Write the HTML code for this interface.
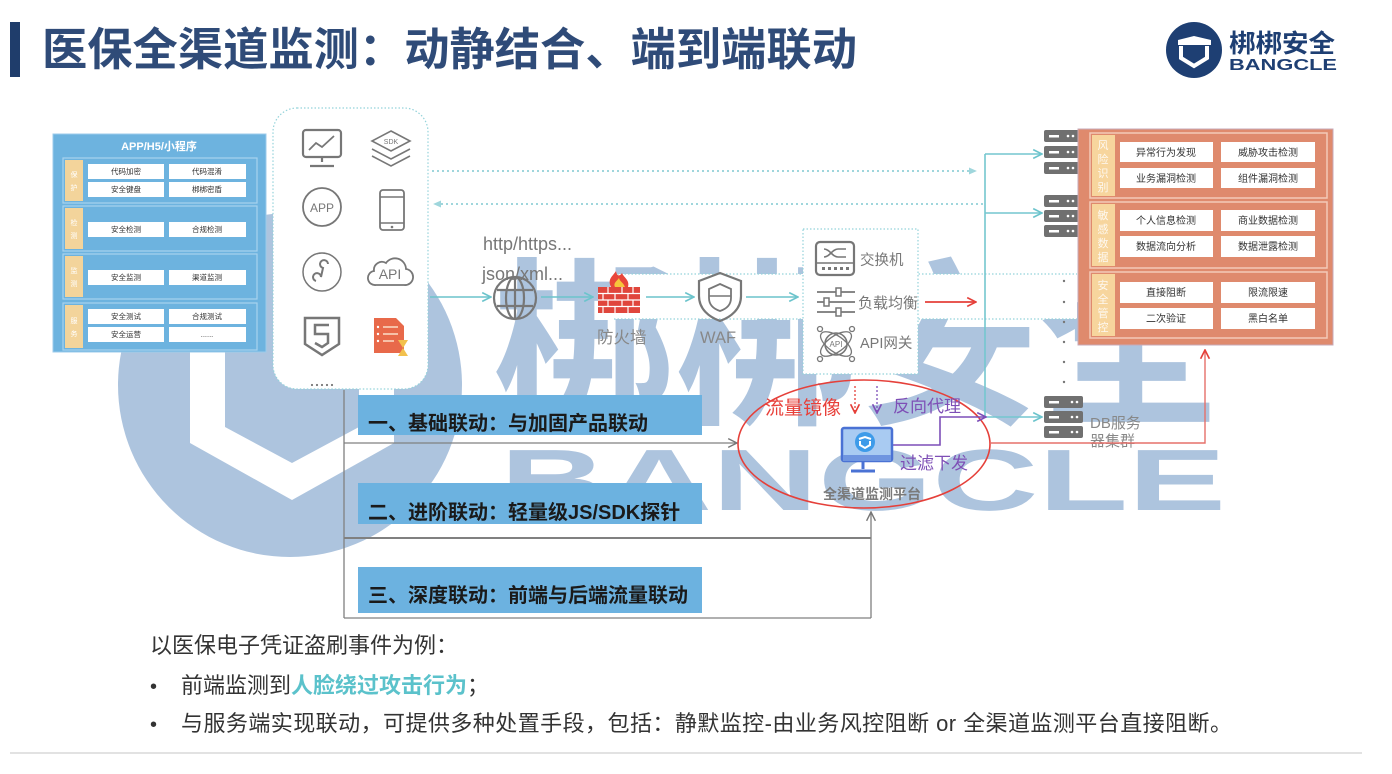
<!DOCTYPE html>
<html><head><meta charset="utf-8">
<style>
html,body{margin:0;padding:0;background:#fff;}
svg{display:block;}
text{font-family:"Liberation Sans","Noto Sans CJK SC",sans-serif;}
</style></head><body>
<svg width="1392" height="774" viewBox="0 0 1392 774" xmlns="http://www.w3.org/2000/svg">
<defs>
<marker id="aT" viewBox="0 0 10 10" refX="9" refY="5" markerWidth="11" markerHeight="11" markerUnits="userSpaceOnUse" orient="auto"><path d="M1,1 L9,5 L1,9" fill="none" stroke="#6cc4cc" stroke-width="1.5"/></marker>
<marker id="aG" viewBox="0 0 10 10" refX="9" refY="5" markerWidth="11" markerHeight="11" markerUnits="userSpaceOnUse" orient="auto"><path d="M1,1 L9,5 L1,9" fill="none" stroke="#777" stroke-width="1.3"/></marker>
<marker id="aR" viewBox="0 0 10 10" refX="9" refY="5" markerWidth="11" markerHeight="11" markerUnits="userSpaceOnUse" orient="auto"><path d="M1,1 L9,5 L1,9" fill="none" stroke="#e5403a" stroke-width="1.5"/></marker>
<marker id="aP" viewBox="0 0 10 10" refX="9" refY="5" markerWidth="11" markerHeight="11" markerUnits="userSpaceOnUse" orient="auto"><path d="M1,1 L9,5 L1,9" fill="none" stroke="#7d4fb8" stroke-width="1.5"/></marker>
<marker id="aD" viewBox="0 0 10 10" refX="8" refY="5" markerWidth="9" markerHeight="9" markerUnits="userSpaceOnUse" orient="auto"><path d="M0,1 L9,5 L0,9 z" fill="#9fd6dc"/></marker>
</defs>
<rect width="1392" height="774" fill="#fff"/>

<!-- watermark -->
<g fill="#adc4de">
<circle cx="290" cy="385" r="172"/>
<text x="492" y="410" font-size="180" font-weight="bold" textLength="730" lengthAdjust="spacingAndGlyphs">梆梆安全</text>
<text x="500" y="510" font-size="87" font-weight="bold" textLength="726" lengthAdjust="spacingAndGlyphs">BANGCLE</text>
</g>
<polygon fill="#fff" points="190,300 190,443 292,500 394,443 394,300 359,300 359,427 292,463 225,427 225,300"/>

<!-- title -->
<rect x="10" y="22" width="10" height="55" fill="#1f3d6b"/>
<text x="42" y="65" font-size="45" font-weight="bold" fill="#2f4b78" textLength="815" lengthAdjust="spacingAndGlyphs">医保全渠道监测：动静结合、端到端联动</text>

<!-- logo -->
<circle cx="1194" cy="50" r="28" fill="#1e3f73"/>
<path d="M1178,40 L1194,36 L1211,40 L1211,45 L1178,45 Z" fill="#fff"/>
<path d="M1181,46 L1181,58 L1194,66 L1207,58 L1207,46" fill="none" stroke="#fff" stroke-width="4"/>
<text x="1229" y="52" font-size="25" font-weight="bold" fill="#1e3f73" textLength="106" lengthAdjust="spacingAndGlyphs">梆梆安全</text>
<text x="1229" y="70" font-size="16" font-weight="bold" fill="#1e3f73" textLength="108" lengthAdjust="spacingAndGlyphs">BANGCLE</text>

<!-- dotted band -->
<rect x="614" y="274" width="463" height="45" fill="#fff"/>
<line x1="614" y1="274" x2="1077" y2="274" stroke="#94d3da" stroke-width="1.2" stroke-dasharray="1.5 2"/>
<line x1="614" y1="319" x2="1077" y2="319" stroke="#94d3da" stroke-width="1.2" stroke-dasharray="1.5 2"/>

<!-- dotted top arrows -->
<line x1="432" y1="171" x2="976" y2="171" stroke="#9fd6dc" stroke-width="2" stroke-dasharray="2 3" marker-end="url(#aD)"/>
<line x1="983" y1="204" x2="434" y2="204" stroke="#9fd6dc" stroke-width="2" stroke-dasharray="2 3" marker-end="url(#aD)"/>

<!-- left box -->
<rect x="53" y="134" width="213" height="218" fill="#6db3df" stroke="#9ccbeb"/>
<text x="159" y="150" font-size="11" font-weight="bold" fill="#fff" text-anchor="middle">APP/H5/小程序</text>
<g stroke="#a8d2ee" fill="none" stroke-width="1.2">
<rect x="63" y="158" width="194" height="45"/>
<rect x="63" y="206" width="194" height="45"/>
<rect x="63" y="254" width="194" height="45"/>
<rect x="63" y="303" width="194" height="47"/>
</g>
<g fill="#f3d49b">
<rect x="65" y="160" width="18" height="41"/>
<rect x="65" y="208" width="18" height="41"/>
<rect x="65" y="256" width="18" height="41"/>
<rect x="65" y="305" width="18" height="43"/>
</g>
<g font-size="7" fill="#fff" text-anchor="middle">
<text x="74" y="177">保</text><text x="74" y="190">护</text>
<text x="74" y="225">检</text><text x="74" y="238">测</text>
<text x="74" y="273">监</text><text x="74" y="286">测</text>
<text x="74" y="323">服</text><text x="74" y="336">务</text>
</g>
<g fill="#fff">
<rect x="88" y="164" width="76" height="15"/><rect x="169" y="164" width="77" height="15"/>
<rect x="88" y="182" width="76" height="15"/><rect x="169" y="182" width="77" height="15"/>
<rect x="88" y="222" width="76" height="15"/><rect x="169" y="222" width="77" height="15"/>
<rect x="88" y="270" width="76" height="15"/><rect x="169" y="270" width="77" height="15"/>
<rect x="88" y="309" width="76" height="15"/><rect x="169" y="309" width="77" height="15"/>
<rect x="88" y="327" width="76" height="15"/><rect x="169" y="327" width="77" height="15"/>
</g>
<g font-size="7.5" fill="#333" text-anchor="middle">
<text x="126" y="174">代码加密</text><text x="207" y="174">代码混淆</text>
<text x="126" y="192">安全键盘</text><text x="207" y="192">梆梆密盾</text>
<text x="126" y="232">安全检测</text><text x="207" y="232">合规检测</text>
<text x="126" y="280">安全监测</text><text x="207" y="280">渠道监测</text>
<text x="126" y="319">安全测试</text><text x="207" y="319">合规测试</text>
<text x="126" y="337">安全运营</text><text x="207" y="337">......</text>
</g>

<!-- apps panel -->
<rect x="273" y="108" width="155" height="281" rx="24" fill="#fff" stroke="#94d3da" stroke-width="1.2" stroke-dasharray="1.5 2"/>
<g fill="#777"><circle cx="312" cy="385" r="1.1"/><circle cx="317" cy="385" r="1.1"/><circle cx="322" cy="385" r="1.1"/><circle cx="327" cy="385" r="1.1"/><circle cx="332" cy="385" r="1.1"/></g>
<g stroke="#777" fill="none" stroke-width="2.2">
<rect x="303" y="130" width="38" height="27" rx="3"/>
<polyline points="309,150 316,143 322,147 334,136" stroke-width="1.8"/>
<line x1="322" y1="157" x2="322" y2="162"/>
<line x1="310" y1="166" x2="334" y2="166"/>
<polygon points="391,131 410,141 391,151 372,141" stroke-width="1.6"/>
<polyline points="372,149 391,159 410,149" stroke-width="1.6"/>
<polyline points="372,156 391,166 410,156" stroke-width="1.6"/>
<circle cx="322" cy="207" r="19" stroke-width="1.8"/>
<rect x="380" y="190" width="24" height="40" rx="3" stroke-width="1.8"/>
<line x1="380" y1="197" x2="404" y2="197" stroke-width="1.5"/>
<line x1="380" y1="223" x2="404" y2="223" stroke-width="1.5"/>
<circle cx="322" cy="272" r="19" stroke-width="1.5"/>
<path d="M316,281 a4,4 0 1,1 5,-4 L323,268 a4,4 0 1,1 5,-4" stroke-width="2"/>
<path d="M376,285 h28 a8,8 0 0 0 2,-16 a11,11 0 0 0 -20,-6 a8,8 0 0 0 -12,8 a7,7 0 0 0 2,14 z" stroke-width="1.8"/>
<path d="M305,318 h34 v26 l-17,11 l-17,-11 z" stroke-width="2.5"/>
<path d="M329,325 h-14 v9 h13 v9 l-6,4 l-7,-4" stroke-width="2.5"/>
</g>
<circle cx="392" cy="227" r="1.3" fill="#777"/>
<text x="391" y="144" font-size="7" fill="#777" text-anchor="middle">SDK</text>
<text x="322" y="212" font-size="12" fill="#777" text-anchor="middle">APP</text>
<text x="390" y="279" font-size="14" fill="#777" text-anchor="middle">API</text>
<path d="M374,318 h22 l8,8 v27 h-30 z" fill="#e8694a"/>
<g stroke="#f6c0a8" stroke-width="2"><line x1="383" y1="327" x2="398" y2="327"/><line x1="383" y1="334" x2="398" y2="334"/><line x1="383" y1="341" x2="394" y2="341"/></g>
<g fill="#fff"><circle cx="378" cy="327" r="1.2"/><circle cx="378" cy="334" r="1.2"/><circle cx="378" cy="341" r="1.2"/></g>
<path d="M398,340 h10 l-5,8 l5,8 h-10 l5,-8 z" fill="#f2c14e"/>

<!-- main flow -->
<g stroke="#6cc4cc" stroke-width="1.6" fill="none">
<line x1="430" y1="297" x2="491" y2="297" marker-end="url(#aT)"/>
<line x1="541" y1="297" x2="593" y2="297" marker-end="url(#aT)"/>
<line x1="646" y1="297" x2="694" y2="297" marker-end="url(#aT)"/>
<line x1="746" y1="297" x2="798" y2="297" marker-end="url(#aT)"/>
</g>
<text x="483" y="250" font-size="18" fill="#777">http/https...</text>
<text x="482" y="280" font-size="18" fill="#777">json/xml...</text>
<g stroke="#777" fill="none" stroke-width="2.2">
<circle cx="515" cy="298" r="21"/>
<ellipse cx="515" cy="298" rx="9" ry="21"/>
<line x1="497" y1="290" x2="533" y2="290"/>
<line x1="497" y1="306" x2="533" y2="306"/>
<line x1="515" y1="277" x2="515" y2="319"/>
</g>
<path d="M611,287 C607,279 613,276 616,271 C617,277 620,276 622,273 C624,278 630,280 628,287 Z" fill="#e8463a"/>
<path d="M615,287 C613,283 617,281 619,278 C620,282 623,282 625,287 Z" fill="#f7c53b"/>
<rect x="598" y="287" width="42" height="26" fill="#e0463c"/>
<g stroke="#fff" stroke-width="1.2">
<line x1="598" y1="293.5" x2="640" y2="293.5"/><line x1="598" y1="300" x2="640" y2="300"/><line x1="598" y1="306.5" x2="640" y2="306.5"/>
<line x1="608" y1="287" x2="608" y2="293.5"/><line x1="622" y1="287" x2="622" y2="293.5"/><line x1="633" y1="287" x2="633" y2="293.5"/>
<line x1="603" y1="293.5" x2="603" y2="300"/><line x1="615" y1="293.5" x2="615" y2="300"/><line x1="628" y1="293.5" x2="628" y2="300"/>
<line x1="608" y1="300" x2="608" y2="306.5"/><line x1="622" y1="300" x2="622" y2="306.5"/><line x1="633" y1="300" x2="633" y2="306.5"/>
<line x1="603" y1="306.5" x2="603" y2="313"/><line x1="615" y1="306.5" x2="615" y2="313"/><line x1="628" y1="306.5" x2="628" y2="313"/>
</g>
<text x="597" y="343" font-size="16.5" fill="#888">防火墙</text>
<path d="M720,273 L741,281 L741,296 C741,309 731,317 720,321 C709,317 699,309 699,296 L699,281 Z" stroke="#777" stroke-width="2.2" fill="none"/>
<path d="M720,284 L731,289 L731,298 C731,305 726,309 720,311 C714,309 709,305 709,298 L709,289 Z" stroke="#777" stroke-width="1.8" fill="none"/>
<line x1="709" y1="296" x2="731" y2="296" stroke="#777" stroke-width="1.5"/>
<text x="700" y="343" font-size="16.5" fill="#888">WAF</text>

<!-- network box -->
<rect x="803" y="229" width="115" height="145" fill="#fff" stroke="#94d3da" stroke-width="1.2" stroke-dasharray="1.5 2"/>
<g stroke="#777" fill="none" stroke-width="2.2">
<rect x="816" y="242" width="38" height="33" rx="4"/>
<line x1="816" y1="263" x2="854" y2="263" stroke-width="1.5"/>
<path d="M824,249 C830,249 832,257 838,257 L846,257 M824,257 C830,257 832,249 838,249 L846,249" stroke-width="1.6"/>
<line x1="817" y1="292" x2="855" y2="292" stroke-width="1.8"/>
<line x1="817" y1="302" x2="855" y2="302" stroke-width="1.8"/>
<line x1="817" y1="312" x2="855" y2="312" stroke-width="1.8"/>
<circle cx="836" cy="344" r="11" stroke-width="1.6"/>
<ellipse cx="836" cy="344" rx="18" ry="8" transform="rotate(35 836 344)" stroke-width="1.3"/>
<ellipse cx="836" cy="344" rx="18" ry="8" transform="rotate(-35 836 344)" stroke-width="1.3"/>
</g>
<g fill="#777"><rect x="822" y="267" width="3" height="3"/><rect x="828" y="267" width="3" height="3"/><rect x="834" y="267" width="3" height="3"/><rect x="840" y="267" width="3" height="3"/><rect x="846" y="267" width="3" height="3"/></g>
<g fill="#fff" stroke="#777" stroke-width="1.5"><rect x="836" y="288" width="5" height="8"/><rect x="824" y="298" width="5" height="8"/><rect x="836" y="308" width="5" height="8"/></g>
<g fill="none" stroke="#777" stroke-width="1.3"><circle cx="820" cy="329" r="2.5"/><circle cx="852" cy="329" r="2.5"/><circle cx="820" cy="359" r="2.5"/><circle cx="852" cy="359" r="2.5"/></g>
<text x="836" y="347" font-size="8" fill="#777" text-anchor="middle">API</text>
<text x="860" y="265" font-size="14.5" fill="#777">交换机</text>
<text x="858" y="308" font-size="15" fill="#777">负载均衡</text>
<text x="860" y="348" font-size="14.5" fill="#777">API网关</text>
<line x1="925" y1="302" x2="976" y2="302" stroke="#e5403a" stroke-width="1.8" marker-end="url(#aR)"/>

<!-- teal distribution -->
<g stroke="#74c6cf" stroke-width="1.6" fill="none">
<line x1="985" y1="154" x2="985" y2="417"/>
<line x1="985" y1="154" x2="1042" y2="154" marker-end="url(#aT)"/>
<line x1="985" y1="213" x2="1042" y2="213" marker-end="url(#aT)"/>
<line x1="985" y1="417" x2="1042" y2="417" marker-end="url(#aT)"/>
</g>
<g fill="#777"><circle cx="1064" cy="281" r="1.2"/><circle cx="1064" cy="302" r="1.2"/><circle cx="1064" cy="322" r="1.2"/><circle cx="1064" cy="342" r="1.2"/><circle cx="1064" cy="362" r="1.2"/><circle cx="1064" cy="382" r="1.2"/></g>

<!-- servers -->
<g fill="#707070">
<rect x="1044" y="130" width="42" height="12" rx="2"/><rect x="1044" y="146" width="42" height="12" rx="2"/><rect x="1044" y="162" width="42" height="12" rx="2"/>
<rect x="1044" y="195" width="42" height="12" rx="2"/><rect x="1044" y="210" width="42" height="12" rx="2"/><rect x="1044" y="225" width="42" height="12" rx="2"/>
<rect x="1044" y="396" width="39" height="12" rx="2"/><rect x="1044" y="411" width="39" height="12" rx="2"/><rect x="1044" y="426" width="39" height="12" rx="2"/>
</g>
<g fill="#fff">
<rect x="1049" y="135" width="10" height="2.5"/><rect x="1049" y="151" width="10" height="2.5"/><rect x="1049" y="167" width="10" height="2.5"/>
<rect x="1049" y="200" width="10" height="2.5"/><rect x="1049" y="215" width="10" height="2.5"/><rect x="1049" y="230" width="10" height="2.5"/>
<rect x="1049" y="401" width="10" height="2.5"/><rect x="1049" y="416" width="10" height="2.5"/><rect x="1049" y="431" width="10" height="2.5"/>
<circle cx="1068" cy="136" r="1.3"/><circle cx="1073" cy="136" r="1.3"/><circle cx="1068" cy="152" r="1.3"/><circle cx="1073" cy="152" r="1.3"/><circle cx="1068" cy="168" r="1.3"/><circle cx="1073" cy="168" r="1.3"/>
<circle cx="1068" cy="201" r="1.3"/><circle cx="1073" cy="201" r="1.3"/><circle cx="1068" cy="216" r="1.3"/><circle cx="1073" cy="216" r="1.3"/><circle cx="1068" cy="231" r="1.3"/><circle cx="1073" cy="231" r="1.3"/>
<circle cx="1072" cy="402" r="1.3"/><circle cx="1077" cy="402" r="1.3"/><circle cx="1072" cy="417" r="1.3"/><circle cx="1077" cy="417" r="1.3"/><circle cx="1072" cy="432" r="1.3"/><circle cx="1077" cy="432" r="1.3"/>
</g>
<text x="1090" y="428" font-size="15" fill="#888">DB服务</text>
<text x="1090" y="446" font-size="15" fill="#888">器集群</text>

<!-- orange box -->
<rect x="1078" y="129" width="255" height="216" fill="#df8a6d" stroke="#c7a9b8"/>
<g stroke="#f4c9b8" stroke-width="1.5" fill="none">
<rect x="1090" y="133" width="237" height="65"/>
<rect x="1090" y="202" width="237" height="66"/>
<rect x="1090" y="272" width="237" height="66"/>
</g>
<g fill="#f7d59d">
<rect x="1092" y="135" width="23" height="61"/>
<rect x="1092" y="204" width="23" height="62"/>
<rect x="1092" y="274" width="23" height="62"/>
</g>
<g font-size="11" fill="#fff" text-anchor="middle" opacity="0.85">
<text x="1103" y="149">风</text><text x="1103" y="163">险</text><text x="1103" y="177">识</text><text x="1103" y="191">别</text>
<text x="1103" y="219">敏</text><text x="1103" y="233">感</text><text x="1103" y="247">数</text><text x="1103" y="261">据</text>
<text x="1103" y="289">安</text><text x="1103" y="303">全</text><text x="1103" y="317">管</text><text x="1103" y="331">控</text>
</g>
<g fill="#fff">
<rect x="1120" y="142" width="93" height="20"/><rect x="1221" y="142" width="94" height="20"/>
<rect x="1120" y="168" width="93" height="20"/><rect x="1221" y="168" width="94" height="20"/>
<rect x="1120" y="210" width="93" height="21"/><rect x="1221" y="210" width="94" height="21"/>
<rect x="1120" y="236" width="93" height="21"/><rect x="1221" y="236" width="94" height="21"/>
<rect x="1120" y="282" width="93" height="21"/><rect x="1221" y="282" width="94" height="21"/>
<rect x="1120" y="308" width="93" height="21"/><rect x="1221" y="308" width="94" height="21"/>
</g>
<g font-size="10" fill="#333" text-anchor="middle">
<text x="1166" y="156">异常行为发现</text><text x="1268" y="156">威胁攻击检测</text>
<text x="1166" y="182">业务漏洞检测</text><text x="1268" y="182">组件漏洞检测</text>
<text x="1166" y="224">个人信息检测</text><text x="1268" y="224">商业数据检测</text>
<text x="1166" y="250">数据流向分析</text><text x="1268" y="250">数据泄露检测</text>
<text x="1166" y="296">直接阻断</text><text x="1268" y="296">限流限速</text>
<text x="1166" y="322">二次验证</text><text x="1268" y="322">黑白名单</text>
</g>

<!-- gray linkage lines -->
<g stroke="#808080" stroke-width="1.3" fill="none">
<line x1="344" y1="390" x2="344" y2="618"/>
<line x1="344" y1="443" x2="737" y2="443" marker-end="url(#aG)"/>
<line x1="344" y1="538" x2="871" y2="538" stroke-width="2"/>
<line x1="344" y1="618" x2="871" y2="618"/>
<line x1="871" y1="618" x2="871" y2="512" marker-end="url(#aG)"/>
</g>

<!-- bars -->
<g fill="#6cb2e0">
<rect x="358" y="395" width="344" height="40"/>
<rect x="358" y="483" width="344" height="41"/>
<rect x="358" y="567" width="344" height="46"/>
</g>
<g font-size="20" font-weight="bold" fill="#1a1a1a">
<text x="368" y="430">一、基础联动：与加固产品联动</text>
<text x="368" y="519">二、进阶联动：轻量级JS/SDK探针</text>
<text x="368" y="602">三、深度联动：前端与后端流量联动</text>
</g>

<!-- ellipse platform -->
<ellipse cx="864" cy="444" rx="126" ry="64" fill="none" stroke="#e5403a" stroke-width="1.6"/>
<text x="765" y="414" font-size="19" fill="#e8403a">流量镜像</text>
<line x1="855" y1="386" x2="855" y2="413" stroke="#e5403a" stroke-width="1.3" stroke-dasharray="2 2" marker-end="url(#aR)"/>
<line x1="877" y1="386" x2="877" y2="413" stroke="#7d4fb8" stroke-width="1.3" stroke-dasharray="2 2" marker-end="url(#aP)"/>
<text x="893" y="412" font-size="17" fill="#7e4fb6">反向代理</text>
<polyline points="893,445 940,445 940,417 986,417" fill="none" stroke="#7d4fb8" stroke-width="1.6" marker-end="url(#aP)"/>
<polyline points="990,443 1205,443 1205,350" fill="none" stroke="#e5706a" stroke-width="1.4" marker-end="url(#aR)"/>
<rect x="842" y="428" width="50" height="33" rx="2" fill="#a9cbf2" stroke="#4a72d4" stroke-width="2.5"/>
<rect x="843" y="455" width="48" height="6" fill="#6f95e0"/>
<line x1="863" y1="462" x2="863" y2="469" stroke="#4a72d4" stroke-width="3"/>
<line x1="851" y1="471" x2="875" y2="471" stroke="#4a72d4" stroke-width="3"/>
<circle cx="865" cy="442" r="10" fill="#3d9be9"/>
<path d="M859,439 L865,437 L871,439 M860,441 L860,445 L865,448 L870,445 L870,441" fill="none" stroke="#fff" stroke-width="2"/>
<text x="900" y="469" font-size="17" fill="#7e4fb6">过滤下发</text>
<text x="823" y="499" font-size="14" font-weight="bold" fill="#7a7a7a">全渠道监测平台</text>

<!-- bottom text -->
<text x="150" y="653" font-size="22" fill="#333">以医保电子凭证盗刷事件为例：</text>
<text x="150" y="693" font-size="20" fill="#333">•</text>
<text x="181" y="693" font-size="22" fill="#333">前端监测到<tspan fill="#5bc2cb" font-weight="bold">人脸绕过攻击行为</tspan>；</text>
<text x="150" y="731" font-size="20" fill="#333">•</text>
<text x="181" y="731" font-size="22" fill="#333" textLength="1051" lengthAdjust="spacing">与服务端实现联动，可提供多种处置手段，包括：静默监控-由业务风控阻断 or 全渠道监测平台直接阻断。</text>
<line x1="10" y1="753" x2="1362" y2="753" stroke="#e2e2e2" stroke-width="2"/>
</svg>
</body></html>
